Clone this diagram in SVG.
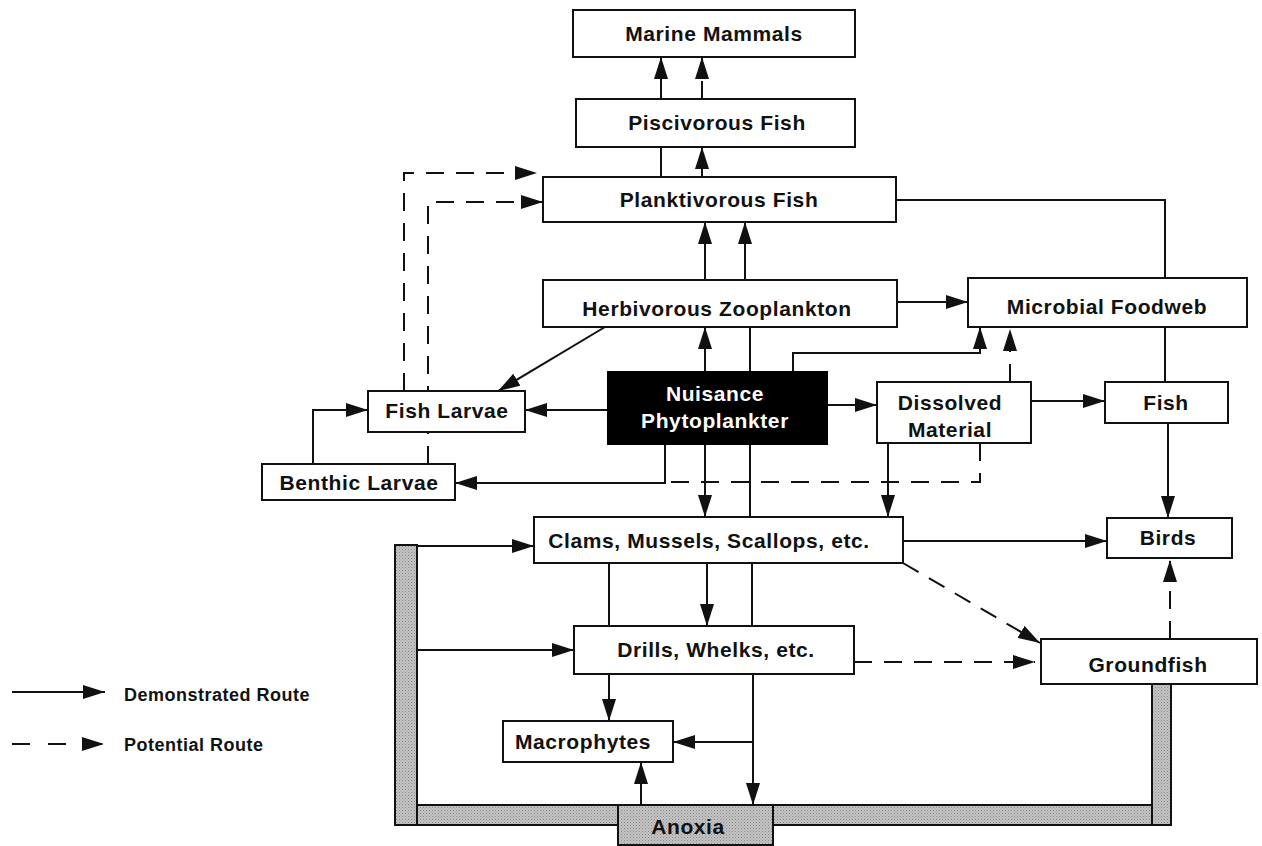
<svg xmlns="http://www.w3.org/2000/svg" width="1262" height="846" viewBox="0 0 1262 846">
<defs>
<marker id="ah" markerUnits="userSpaceOnUse" markerWidth="22" markerHeight="14" refX="22" refY="7" orient="auto">
<path d="M0,0 L22,7 L0,14 z" fill="#111"/>
</marker>
<pattern id="dots" width="3" height="3" patternUnits="userSpaceOnUse">
<rect width="3" height="3" fill="#c4c4c4"/>
<rect width="1" height="1" fill="#8a8a8a"/>
<rect x="1.5" y="1.5" width="1" height="1" fill="#9a9a9a"/>
</pattern>
<style>
.box{fill:#fff;stroke:#111;stroke-width:2}
.bar{fill:url(#dots);stroke:#111;stroke-width:2}
.t{font-family:"Liberation Sans",Arial,sans-serif;font-weight:bold;font-size:21px;letter-spacing:0.6px;fill:#111;text-anchor:middle}
.tw{fill:#fff}
.lg{font-family:"Liberation Sans",Arial,sans-serif;font-weight:bold;font-size:18px;letter-spacing:0.5px;fill:#111}
.c{fill:none;stroke:#111;stroke-width:2}
.a{marker-end:url(#ah)}
.d{stroke-dasharray:18 12}
</style>
</defs>
<rect width="1262" height="846" fill="#fff"/>

<g id="connectors">
<!-- solid -->
<path class="c a" d="M661,99 V57"/>
<path class="c" d="M661,177 V147"/>
<path class="c a" d="M702,177 V147"/>
<path class="c a" d="M705,280 V222"/>
<path class="c a" d="M745,280 V222"/>
<path class="c a" d="M705,372 V327"/>
<path class="c" d="M750,327 V517"/>
<path class="c" d="M752,563 V626"/>
<path class="c a" d="M753,674 V805"/>
<path class="c a" d="M753,742 H673"/>
<path class="c a" d="M793,372 V353 H980 V327"/>
<path class="c a" d="M897,302 H968"/>
<path class="c" d="M896,200 H1165 V278"/>
<path class="c" d="M1165,327 V382"/>
<path class="c a" d="M1168,423 V518"/>
<path class="c a" d="M827,405 H877"/>
<path class="c a" d="M1031,401 H1105"/>
<path class="c a" d="M888,443 V517"/>
<path class="c a" d="M608,410 H525"/>
<path class="c a" d="M665,444 V483 H455"/>
<path class="c a" d="M313,464 V410 H368"/>
<path class="c a" d="M605,327 L498,391"/>
<path class="c a" d="M705,444 V517"/>
<path class="c a" d="M903,541 H1107"/>
<path class="c" d="M609,563 V626"/>
<path class="c a" d="M707,563 V626"/>
<path class="c a" d="M609,674 V721"/>
<path class="c a" d="M641,805 V762"/>
<path class="c a" d="M417,546 H534"/>
<path class="c a" d="M417,650 H574"/>
<!-- dashed -->
<path class="c a d" d="M702,99 V57"/>
<path class="c a d" d="M1010,382 V329"/>
<path class="c d" d="M980,443 V482 H668"/>
<path class="c a d" d="M428,464 V202 H543"/>
<path class="c a d" d="M404,391 V173 H537"/>
<path class="c a d" d="M903,563 L1040,643"/>
<path class="c a d" d="M854,662 H1035"/>
<path class="c a d" d="M1170,639 V560"/>
</g>

<g id="anoxia-bar">
<rect class="bar" x="395" y="545" width="22" height="280"/>
<rect class="bar" x="417" y="805" width="735" height="20"/>
<rect class="bar" x="1152" y="684" width="19" height="141"/>
</g>

<g id="marine-mammals"><rect class="box" x="573" y="10" width="282" height="47"/><text class="t" x="714" y="41">Marine Mammals</text></g>
<g id="piscivorous-fish"><rect class="box" x="576" y="99" width="279" height="48"/><text class="t" x="717" y="130">Piscivorous Fish</text></g>
<g id="planktivorous-fish"><rect class="box" x="543" y="177" width="353" height="45"/><text class="t" x="719" y="207">Planktivorous Fish</text></g>
<g id="herbivorous-zooplankton"><rect class="box" x="543" y="280" width="354" height="47"/><text class="t" x="717" y="316">Herbivorous Zooplankton</text></g>
<g id="microbial-foodweb"><rect class="box" x="968" y="278" width="279" height="49"/><text class="t" x="1107" y="314">Microbial Foodweb</text></g>
<g id="nuisance-phytoplankter"><rect x="608" y="372" width="219" height="72" fill="#000" stroke="#000" stroke-width="2"/><text class="t tw" x="715" y="401">Nuisance</text><text class="t tw" x="715" y="428">Phytoplankter</text></g>
<g id="dissolved-material"><rect class="box" x="877" y="382" width="154" height="61"/><text class="t" x="950" y="410">Dissolved</text><text class="t" x="950" y="437">Material</text></g>
<g id="fish"><rect class="box" x="1105" y="382" width="123" height="41"/><text class="t" x="1166" y="410">Fish</text></g>
<g id="fish-larvae"><rect class="box" x="368" y="391" width="157" height="41"/><text class="t" x="447" y="418">Fish Larvae</text></g>
<g id="benthic-larvae"><rect class="box" x="262" y="464" width="193" height="36"/><text class="t" x="359" y="490">Benthic Larvae</text></g>
<g id="clams"><rect class="box" x="534" y="517" width="369" height="46"/><text class="t" x="709" y="548">Clams, Mussels, Scallops, etc.</text></g>
<g id="birds"><rect class="box" x="1107" y="518" width="125" height="40"/><text class="t" x="1168" y="545">Birds</text></g>
<g id="drills"><rect class="box" x="574" y="626" width="280" height="48"/><text class="t" x="716" y="657">Drills, Whelks, etc.</text></g>
<g id="groundfish"><rect class="box" x="1041" y="639" width="216" height="45"/><text class="t" x="1148" y="672">Groundfish</text></g>
<g id="macrophytes"><rect class="box" x="503" y="721" width="170" height="41"/><text class="t" x="583" y="749">Macrophytes</text></g>
<g id="anoxia"><rect class="bar" x="618" y="805" width="155" height="40"/><text class="t" x="688" y="834">Anoxia</text></g>

<g id="legend">
<path class="c a" d="M12,692 H105"/>
<text class="lg" x="124" y="701">Demonstrated Route</text>
<path class="c a" d="M12,744 H104" stroke-dasharray="18 18"/>
<text class="lg" x="124" y="751">Potential Route</text>
</g>
</svg>
